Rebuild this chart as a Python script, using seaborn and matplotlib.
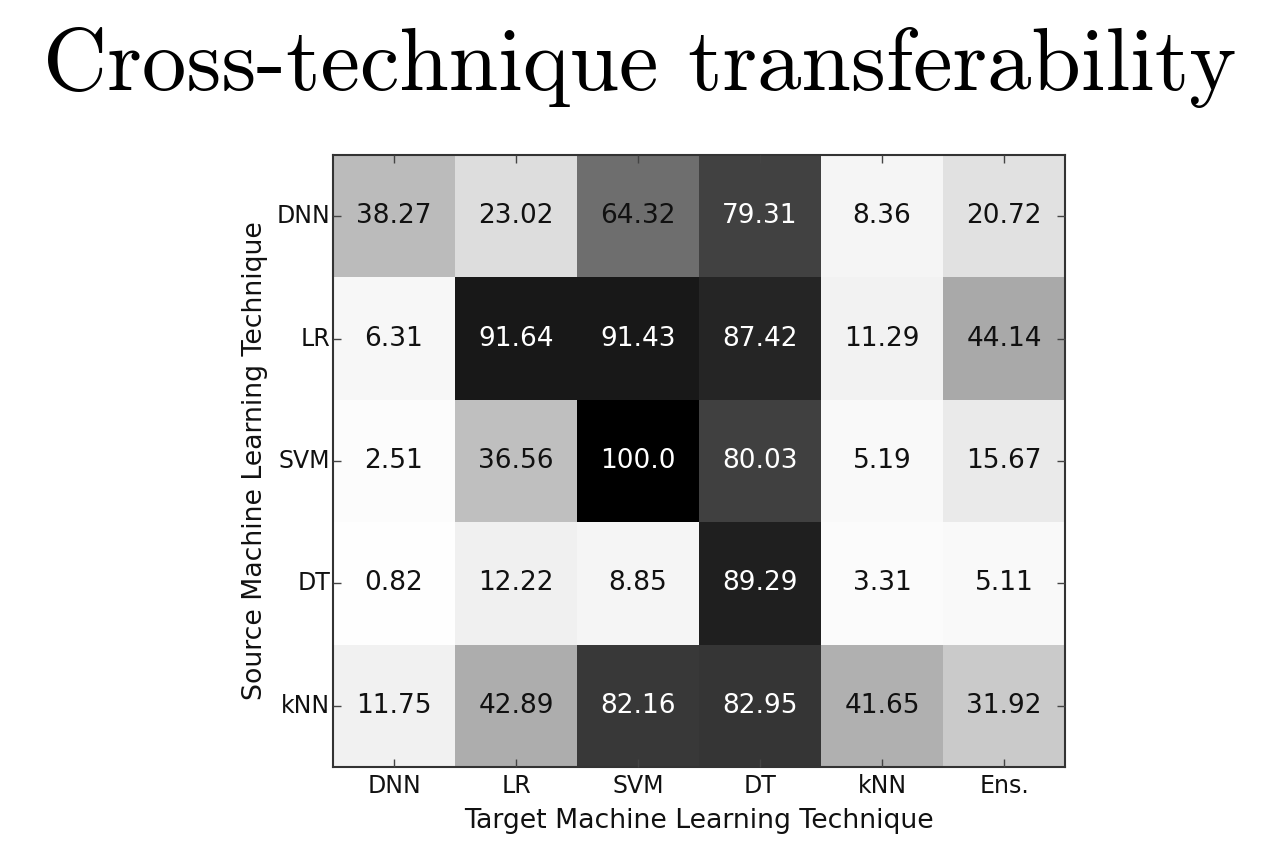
import numpy as np
import pandas as pd
import matplotlib
matplotlib.use("Agg")
import matplotlib.pyplot as plt
import seaborn as sns

# data
sources = ['DNN', 'LR', 'SVM', 'DT', 'kNN']
targets = ['DNN', 'LR', 'SVM', 'DT', 'kNN', 'Ens.']
row_dnn = [38.27, 23.02, 64.32, 79.31, 8.36, 20.72]
row_lr = [6.31, 91.64, 91.43, 87.42, 11.29, 44.14]
row_svm = [2.51, 36.56, 100.0, 80.03, 5.19, 15.67]
row_dt = [0.82, 12.22, 8.85, 89.29, 3.31, 5.11]
row_knn = [11.75, 42.89, 82.16, 82.95, 41.65, 31.92]

df = pd.DataFrame([row_dnn, row_lr, row_svm, row_dt, row_knn],
                  index=sources, columns=targets)

sns.set_style('white')
plt.rcParams['font.family'] = ['DejaVu Sans']
plt.rcParams['text.color'] = '#111111'
plt.rcParams['axes.labelcolor'] = '#111111'

fig = plt.figure(figsize=(12.79, 8.5), dpi=100)
ax = fig.add_axes([333 / 1279, 1 - 767 / 850, 732 / 1279, 612 / 850])

sns.heatmap(df, ax=ax, cmap='Greys', vmin=0, vmax=100, cbar=False,
            annot=True, fmt='.2f', annot_kws={'fontsize': 19})

# the slide shows 100.0 rather than 100.00, and only the darkest cells get white text
for t, v in zip(ax.texts, df.values.flatten()):
    t.set_text(str(round(v, 2)) if v == 100.0 else f'{v:.2f}')
    t.set_color('white' if v > 70 else '#111111')

for s in ax.spines.values():
    s.set_visible(True)
    s.set_color('#333333')
    s.set_linewidth(1.5)

# ticks sit on top of the cells, pointing inwards on all four sides
ax.set_axisbelow(False)
ax.tick_params(axis='both', which='both', direction='in', length=6, width=1,
               color='#444444', labelsize=17, labelcolor='#111111',
               bottom=True, left=True, top=True, right=True,
               labeltop=False, labelright=False)
ax.tick_params(axis='y', pad=2)
ax.tick_params(axis='x', pad=5)
ax.set_yticklabels(sources, rotation=0)
ax.set_xticklabels(targets, rotation=0)
ax.set_xlabel('Target Machine Learning Technique', fontsize=19.3, labelpad=7)
ax.set_ylabel('Source Machine Learning Technique', fontsize=19.3, labelpad=6)

fig.text(0.5, 1 - 68 / 850, 'Cross-technique transferability', ha='center', va='center',
         fontsize=64, family='cmr10', color='black')

fig.savefig('out.png', dpi=100, facecolor='white')
